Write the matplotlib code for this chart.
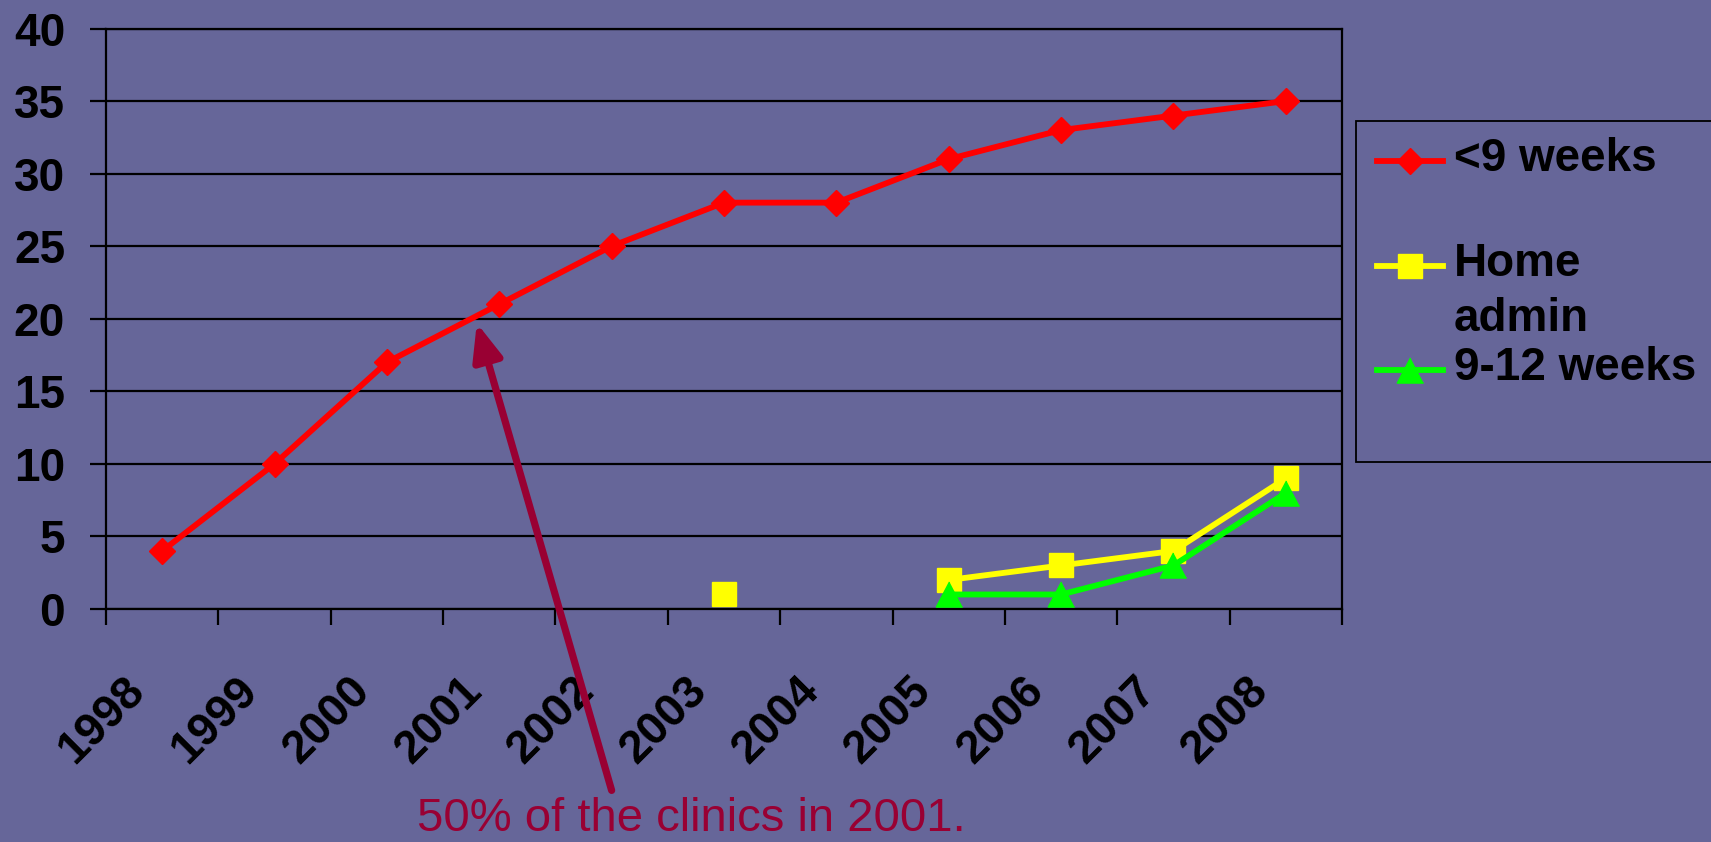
import numpy as np
import matplotlib
matplotlib.use('Agg')
import matplotlib.pyplot as plt
from matplotlib.legend_handler import HandlerLine2D
from matplotlib.transforms import ScaledTranslation
from matplotlib.patches import ArrowStyle

nan = np.nan
years = ['1998', '1999', '2000', '2001', '2002', '2003', '2004', '2005', '2006', '2007', '2008']
under_9_weeks = [4, 10, 17, 21, 25, 28, 28, 31, 33, 34, 35]
home_admin = [nan, nan, nan, nan, nan, 1, nan, 2, 3, 4, 9]
weeks_9_12 = [nan, nan, nan, nan, nan, nan, nan, 1, 1, 3, 8]
series_labels = ['<9 weeks\n', 'Home\nadmin', '9-12 weeks\n']
y_ticks = [0, 5, 10, 15, 20, 25, 30, 35, 40]
note_text = '50% of the clinics in 2001.'
note_target = (2.80, 19.7)   # data point the arrow points at
note_tail = (4.00, -12.5)

BG = '#666699'
plt.rcParams['font.family'] = ['Liberation Sans', 'DejaVu Sans']

W, H = 1711, 842
fig = plt.figure(figsize=(W / 100, H / 100), dpi=100, facecolor=BG)
ax = fig.add_axes([106 / W, 1 - 609 / H, (1342 - 106) / W, (609 - 28.5) / H])
ax.set_facecolor(BG)

x = np.arange(len(years))
tri = [(0, 1), (-1.05, -1), (1.05, -1)]
l1, = ax.plot(x, under_9_weeks, color='#FF0000', lw=4.2, marker='D', ms=13,
              mec='#FF0000', zorder=3)
l2, = ax.plot(x, home_admin, color='#FFFF00', lw=4.2, marker='s', ms=17,
              mec='#FFFF00', zorder=3)
l3, = ax.plot(x, weeks_9_12, color='#00FF00', lw=4.2, marker=tri, ms=19,
              mec='#00FF00', zorder=4)

ax.set_xlim(-0.5, len(years) - 0.5)
ax.set_ylim(0, 40)
ax.set_yticks(y_ticks)
ax.yaxis.grid(True, color='black', lw=1.6)
ax.set_axisbelow(True)
for s in ax.spines.values():
    s.set_color('black')
    s.set_linewidth(1.6)

ax.set_xticks(x)
ax.set_xticklabels(years, rotation=45, ha='right', va='center',
                   rotation_mode='anchor', fontsize=33, fontweight='bold')
ax.set_xticks(np.arange(-0.5, len(years), 1), minor=True)
ax.tick_params(axis='x', which='major', length=0, pad=54)
ax.tick_params(axis='x', which='minor', length=11.5, width=1.6, color='black',
               direction='out')
ax.tick_params(axis='y', length=11.5, width=1.6, color='black', pad=18,
               labelsize=33)
for lab in ax.get_yticklabels():
    lab.set_fontweight('bold')
off = ScaledTranslation(-0.24, 0, fig.dpi_scale_trans)
for lab in ax.get_xticklabels():
    lab.set_transform(lab.get_transform() + off)


class FirstLineHandler(HandlerLine2D):
    def __init__(self, dy=0.0, **kw):
        super().__init__(**kw)
        self.dy = dy

    def create_artists(self, legend, orig_handle, xdescent, ydescent, width,
                       height, fontsize, trans):
        arts = super().create_artists(legend, orig_handle, xdescent, ydescent,
                                      width, height, fontsize, trans)
        for a in arts:
            a.set_ydata(np.asarray(a.get_ydata(), dtype=float) + self.dy * fontsize)
        return arts


hm = {h: FirstLineHandler(dy=0.58, xpad=0.11) for h in (l1, l2, l3)}
leg = fig.legend([l1, l2, l3], series_labels, loc='upper left',
                 bbox_to_anchor=(1356 / W, 1 - 121 / H),
                 bbox_transform=fig.transFigure, borderaxespad=0,
                 frameon=True, fancybox=False, shadow=False, facecolor=BG,
                 edgecolor='black', framealpha=1, borderpad=0.35,
                 labelspacing=0.12, handlelength=1.55, handletextpad=0.24,
                 prop={'size': 33, 'weight': 'bold'}, handler_map=hm)
leg.get_frame().set_linewidth(1.3)
for t in leg.get_texts():
    t.set_linespacing(1.33)

NOTE_C = '#990033'
ax.annotate('', xy=note_target, xytext=note_tail, xycoords='data',
            textcoords='data', annotation_clip=False,
            arrowprops=dict(arrowstyle=ArrowStyle('-|>', head_length=1.1,
                                                  head_width=0.45),
                            mutation_scale=20, lw=5.2, color=NOTE_C,
                            shrinkA=0, shrinkB=0))
fig.text(417 / W, 1 - 841 / H, note_text, color=NOTE_C, fontsize=34,
         ha='left', va='bottom')

fig.savefig('out.png', dpi=100, facecolor=BG)
